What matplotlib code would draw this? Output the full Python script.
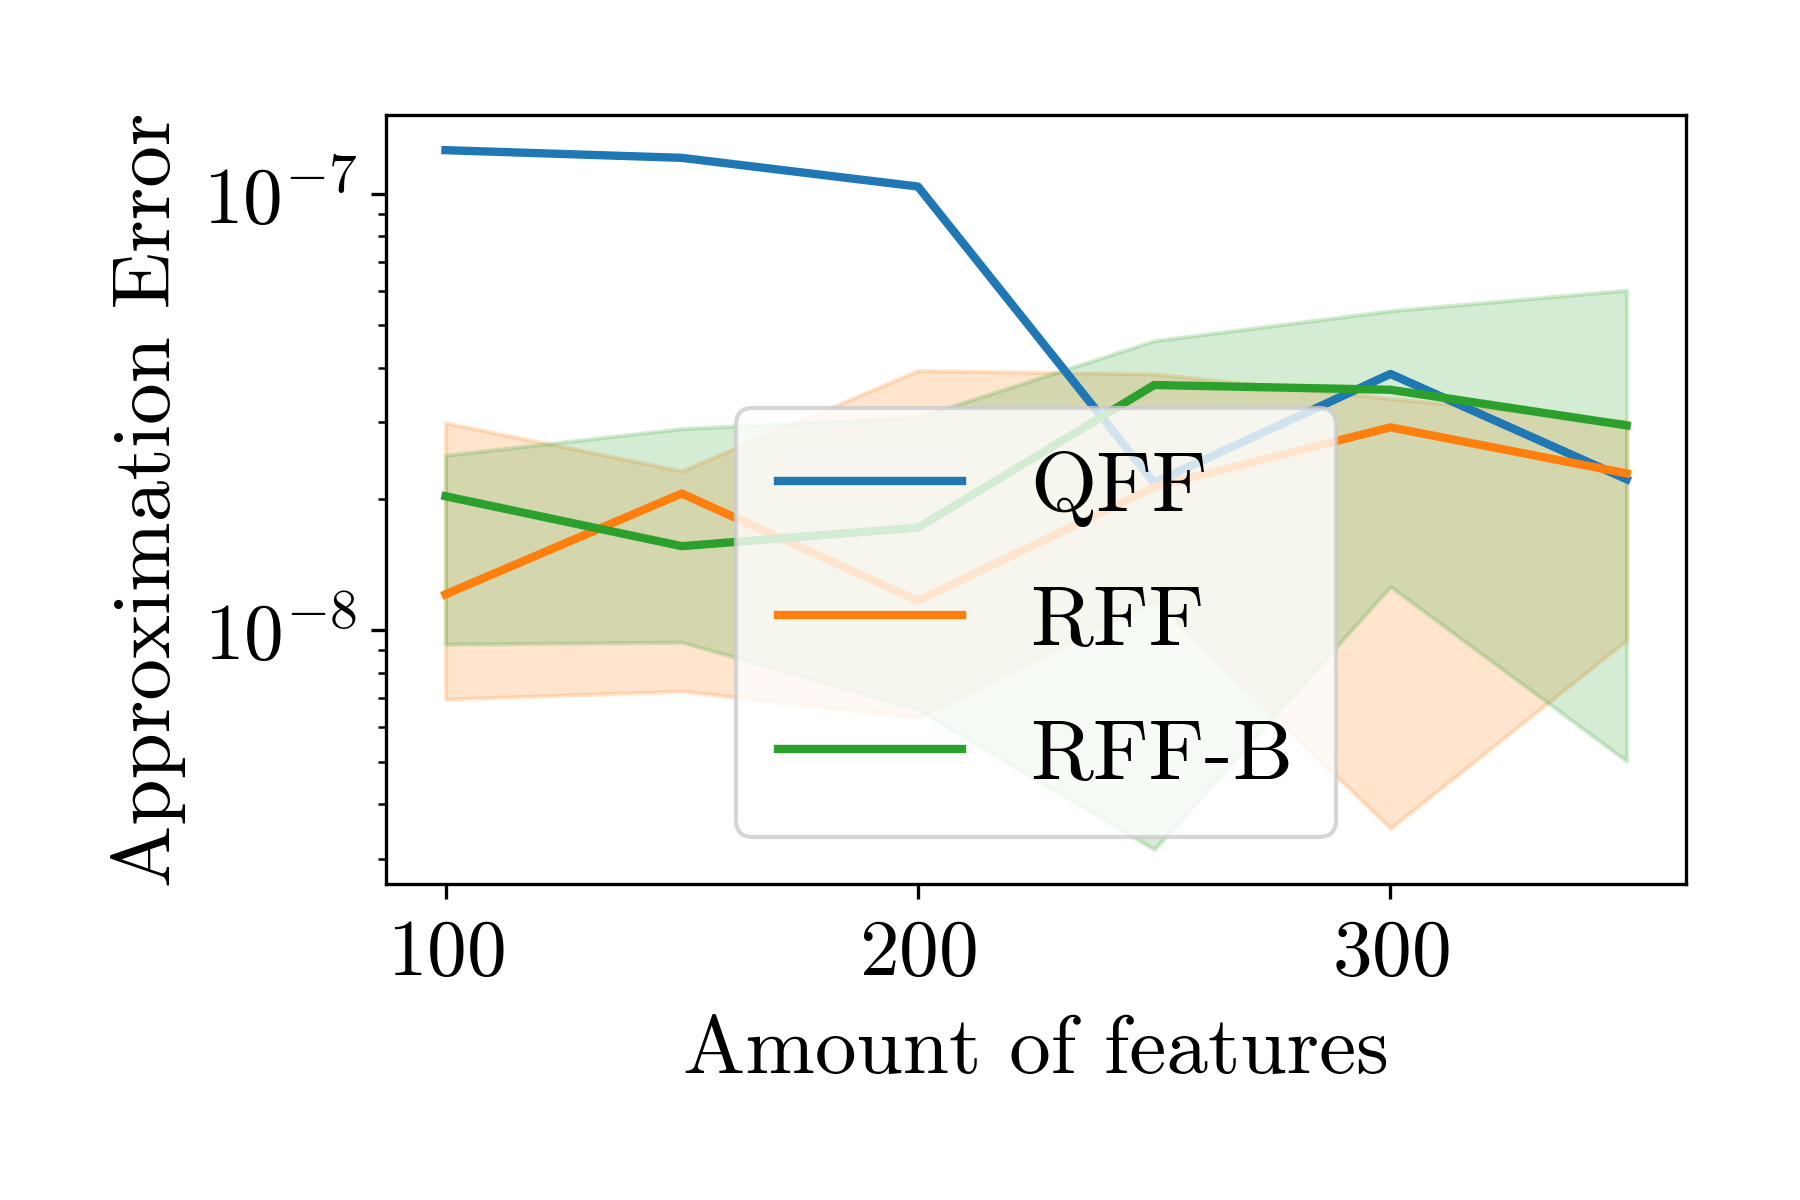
import numpy as np
import matplotlib
matplotlib.use("Agg")
import matplotlib.pyplot as plt

plt.rcParams['font.family'] = 'serif'
plt.rcParams['font.serif'] = ['cmr10']
plt.rcParams['mathtext.fontset'] = 'cm'
plt.rcParams['axes.unicode_minus'] = False
plt.rcParams['axes.formatter.use_mathtext'] = True

# data
features = [100, 150, 200, 250, 300, 350]

qff = [1.26e-7, 1.21e-7, 1.04e-7, 2.18e-8, 3.87e-8, 2.22e-8]

rff = [1.21e-8, 2.06e-8, 1.17e-8, 2.13e-8, 2.92e-8, 2.29e-8]
rff_lo = [6.96e-9, 7.26e-9, 6.32e-9, 1.17e-8, 3.52e-9, 9.5e-9]
rff_hi = [2.99e-8, 2.32e-8, 3.94e-8, 3.87e-8, 3.40e-8, 3.01e-8]

rffb = [2.03e-8, 1.56e-8, 1.72e-8, 3.65e-8, 3.56e-8, 2.95e-8]
rffb_lo = [9.3e-9, 9.4e-9, 6.59e-9, 3.15e-9, 1.26e-8, 5.02e-9]
rffb_hi = [2.52e-8, 2.90e-8, 3.08e-8, 4.61e-8, 5.40e-8, 6.02e-8]

fig = plt.figure(figsize=(6, 4), dpi=300)
ax = fig.add_axes([0.2147, 0.263, 0.7218, 0.641])

ax.plot(features, qff, color='C0', lw=2, label='QFF')
ax.plot(features, rff, color='C1', lw=2, label='RFF')
ax.fill_between(features, rff_lo, rff_hi, color='C1', alpha=0.2)
ax.plot(features, rffb, color='C2', lw=2, label='RFF-B')
ax.fill_between(features, rffb_lo, rffb_hi, color='C2', alpha=0.2)

ax.set_yscale('log')
ax.set_xticks([100, 200, 300])
ax.tick_params(labelsize=19)
ax.tick_params(axis='x', pad=4.8)
ax.set_xlabel('Amount of features', fontsize=20, labelpad=6)
ax.set_ylabel('Approximation Error', fontsize=20)
ax.legend(loc='lower center', fontsize=20.5, labelspacing=0.68,
          handlelength=2.15, borderpad=0.5, borderaxespad=0.55)

fig.savefig('out.png', dpi=300)
